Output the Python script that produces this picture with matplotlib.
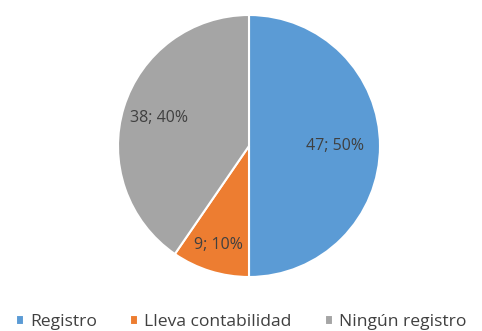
import matplotlib.pyplot as plt
import numpy as np

plt.rcParams['font.family'] = ['Open Sans', 'DejaVu Sans']

categories = ["Registro", "Lleva contabilidad", "Ningún registro"]
values = [47, 9, 38]
colors = ["#5B9BD5", "#ED7D31", "#A5A5A5"]

total = sum(values)

fig = plt.figure(figsize=(4.82, 3.31), dpi=100)
# pie centre ~ (249, 146) px, radius ~131 px
ax = fig.add_axes([(249 - 131) / 482, (331 - 146 - 131) / 331, 262 / 482, 262 / 331])

def fmt(pct):
    n = int(round(pct * total / 100.0))
    return "%d; %d%%" % (n, round(pct))

wedges, texts, autotexts = ax.pie(values, colors=colors, startangle=90, counterclock=False,
                                  autopct=fmt, pctdistance=0.6,
                                  wedgeprops=dict(edgecolor='white', linewidth=1.5),
                                  textprops=dict(color='#404040', fontsize=11.5))
ax.set_aspect('equal')
ax.set_xlim(-1, 1)
ax.set_ylim(-1, 1)

# label distances tweaked per slice like Excel's best fit
dist = [0.66, 0.79, 0.72]
for w, t, d in zip(wedges, autotexts, dist):
    ang = np.deg2rad((w.theta1 + w.theta2) / 2)
    t.set_position((d * np.cos(ang), d * np.sin(ang)))

fig.legend(wedges, categories, loc='lower center', ncol=3, frameon=False,
           bbox_to_anchor=(0.5, -0.045), fontsize=12.6, handlelength=0.45, handleheight=0.45,
           handletextpad=0.35, columnspacing=1.9, labelcolor='#404040')

fig.savefig("out.png", dpi=100)
